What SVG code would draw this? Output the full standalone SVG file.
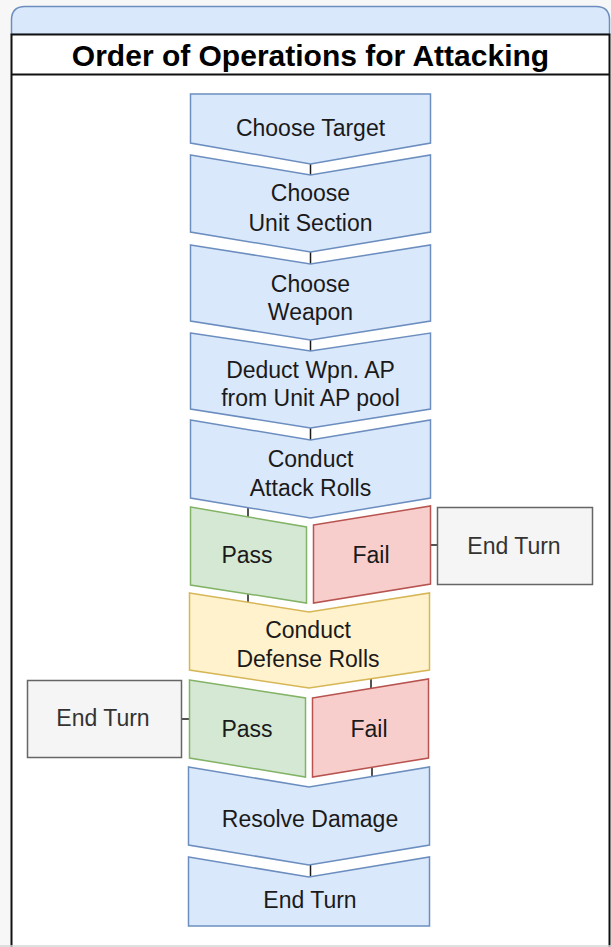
<svg xmlns="http://www.w3.org/2000/svg" width="611" height="947" viewBox="0 0 611 947">
<style>
text{font-family:"Liberation Sans",Arial,sans-serif;font-size:23px;text-anchor:middle;fill:#1a1a1a}
.title{font-size:30px;font-weight:bold;fill:#000}
.blue{fill:#dae8fc;stroke:#6c8ebf;stroke-width:1.5}
.green{fill:#d5e8d4;stroke:#82b366;stroke-width:1.5}
.red{fill:#f8cecc;stroke:#b85450;stroke-width:1.5}
.yellow{fill:#fff2cc;stroke:#d6b656;stroke-width:1.5}
.gray{fill:#f5f5f5;stroke:#666666;stroke-width:1.5}
.gray + text,.gt{fill:#333333}
.conn line{stroke:#1a1a1a;stroke-width:1.5}
</style>
<rect x="0" y="0" width="611" height="947" fill="#f7f7f7"/>
<g id="container">
<path d="M11.5,34.5 V20 Q11.5,6.5 25,6.5 H596 Q609.5,6.5 609.5,20 V34.5 Z" fill="#dae8fc" stroke="#6c8ebf" stroke-width="1.5"/>
<rect x="11.5" y="34.5" width="598" height="920" fill="#ffffff" stroke="#111" stroke-width="2"/>
<line x1="11.5" y1="74.5" x2="609.5" y2="74.5" stroke="#111" stroke-width="2"/>
<text class="title" x="310.5" y="66">Order of Operations for Attacking</text>
<line x1="0" y1="946" x2="611" y2="946" stroke="#d6d6d6" stroke-width="1.5"/>
</g>
<g class="conn" id="connectors">
<line x1="310.5" y1="164" x2="310.5" y2="175"/>
<line x1="310.5" y1="252" x2="310.5" y2="264"/>
<line x1="310.5" y1="340" x2="310.5" y2="351"/>
<line x1="310.5" y1="428" x2="310.5" y2="440"/>
<line x1="248" y1="508" x2="248" y2="517"/>
<line x1="430.5" y1="545" x2="437.5" y2="545"/>
<line x1="248" y1="594" x2="248" y2="602"/>
<line x1="371" y1="679" x2="371" y2="688"/>
<line x1="181.5" y1="719" x2="189" y2="719"/>
<line x1="372" y1="767" x2="372" y2="777"/>
<line x1="310.5" y1="865" x2="310.5" y2="877"/>
</g>
<g id="n1"><polygon class="blue" points="190.5,94 430.5,94 430.5,143 310.5,164 190.5,143"/><text x="310.5" y="136">Choose Target</text></g>
<g id="n2"><polygon class="blue" points="190.5,155 310.5,175 430.5,155 430.5,232 310.5,252 190.5,232"/><text x="310.5" y="201">Choose</text><text x="310.5" y="231">Unit Section</text></g>
<g id="n3"><polygon class="blue" points="190.5,245 310.5,264 430.5,245 430.5,321 310.5,340 190.5,321"/><text x="310.5" y="292">Choose</text><text x="310.5" y="320">Weapon</text></g>
<g id="n4"><polygon class="blue" points="190.5,333 310.5,351 430.5,333 430.5,409 310.5,428 190.5,409"/><text x="310.5" y="378">Deduct Wpn. AP</text><text x="310.5" y="406">from Unit AP pool</text></g>
<g id="n5"><polygon class="blue" points="190.5,420 310.5,440 430.5,420 430.5,498 310.5,518 190.5,498"/><text x="310.5" y="467">Conduct</text><text x="310.5" y="496">Attack Rolls</text></g>
<g id="passA"><polygon class="green" points="190.5,507 306.5,527 306.5,603 190.5,585"/><text x="247" y="563">Pass</text></g>
<g id="failA"><polygon class="red" points="313.5,525 430.5,506 430.5,584 313.5,603"/><text x="371" y="563">Fail</text></g>
<g id="endA"><rect class="gray" x="437.5" y="507.5" width="155" height="77"/><text class="gt" x="514" y="554">End Turn</text></g>
<g id="n6"><polygon class="yellow" points="189.5,593 309,612 429.5,593 429.5,670 309,688 189.5,670"/><text x="308" y="638">Conduct</text><text x="308" y="667">Defense Rolls</text></g>
<g id="passD"><polygon class="green" points="189.5,680 305.5,698 305.5,777 189.5,758"/><text x="247" y="737">Pass</text></g>
<g id="failD"><polygon class="red" points="312.5,698 428.5,679 428.5,758 312.5,777"/><text x="369" y="737">Fail</text></g>
<g id="endD"><rect class="gray" x="27.5" y="680.5" width="154" height="77"/><text class="gt" x="103" y="726">End Turn</text></g>
<g id="n7"><polygon class="blue" points="188.5,767 309,787 429.5,767 429.5,845 309,865 188.5,845"/><text x="310" y="827">Resolve Damage</text></g>
<g id="n8"><polygon class="blue" points="188.5,857 309,877 429.5,857 429.5,926 188.5,926"/><text x="310" y="908">End Turn</text></g>
</svg>
